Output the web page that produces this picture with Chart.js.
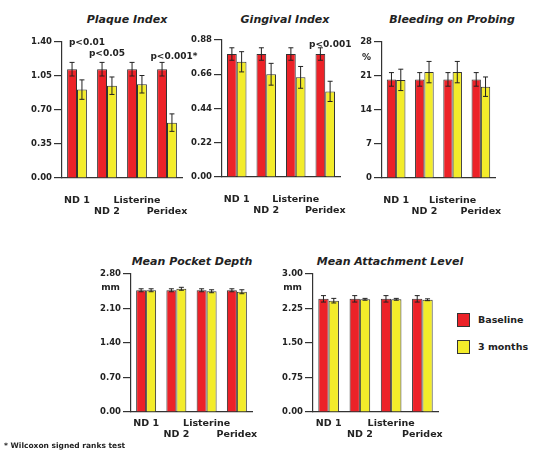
<!DOCTYPE html>
<html>
<head>
<meta charset="utf-8">
<script src="https://cdn.jsdelivr.net/npm/chart.js@4.4.1/dist/chart.umd.min.js"></script>
<style>
  body { margin: 0; background: #fff; }
  #page { position: relative; width: 533px; height: 452px; overflow: hidden; color: #222; font-family: 'DejaVu Sans', sans-serif; }
  canvas { position: absolute; }
  .title { position: absolute; width: 220px; text-align: center; font: italic bold 11px 'DejaVu Sans', sans-serif; line-height: 14px; }
  .key { position: absolute; left: 457px; width: 11px; height: 12px; border: 1px solid #333; }
  .keytext { position: absolute; left: 478px; font: bold 9.5px 'DejaVu Sans', sans-serif; line-height: 12px; }
  #foot { position: absolute; left: 4px; top: 441px; font: bold 7.5px 'DejaVu Sans', sans-serif; line-height: 10px; }
</style>
</head>
<body>
<div id="page">
  <div class="title" style="left:17px;top:13px">Plaque Index</div>
  <div class="title" style="left:175px;top:13px">Gingival Index</div>
  <div class="title" style="left:342px;top:13px">Bleeding on Probing</div>
  <div class="title" style="left:82px;top:255px">Mean Pocket Depth</div>
  <div class="title" style="left:280px;top:255px">Mean Attachment Level</div>

  <canvas id="plaque" style="left:0px;top:34px" width="202" height="184"></canvas>
  <canvas id="gingival" style="left:185px;top:32px" width="173" height="185"></canvas>
  <canvas id="bleeding" style="left:352px;top:34px" width="158" height="184"></canvas>
  <canvas id="pocket" style="left:80px;top:266px" width="187" height="176"></canvas>
  <canvas id="attach" style="left:270px;top:266px" width="183" height="176"></canvas>

  <div class="key" style="top:313px;background:#ec2228"></div>
  <div class="keytext" style="top:314px">Baseline</div>
  <div class="key" style="top:340px;background:#f3ec2a"></div>
  <div class="keytext" style="top:341px">3 months</div>
  <div id="foot">* Wilcoxon signed ranks test</div>
</div>
<script>
const categories = [['ND 1', ''], ['', 'ND 2'], ['Listerine', ''], ['', 'Peridex']];

const plaqueBaseline = [1.12, 1.12, 1.12, 1.12];
const plaqueBaselineErr = [0.07, 0.07, 0.07, 0.07];
const plaque3m = [0.91, 0.95, 0.965, 0.57];
const plaque3mErr = [0.10, 0.09, 0.09, 0.09];
const plaqueTicks = [0, 0.35, 0.70, 1.05, 1.40];

const gingivalBaseline = [0.79, 0.79, 0.79, 0.79];
const gingivalBaselineErr = [0.04, 0.04, 0.04, 0.04];
const gingival3m = [0.74, 0.66, 0.64, 0.55];
const gingival3mErr = [0.065, 0.07, 0.07, 0.065];
const gingivalTicks = [0, 0.22, 0.44, 0.66, 0.88];

const bleedingBaseline = [20.3, 20.3, 20.3, 20.3];
const bleedingBaselineErr = [1.4, 1.4, 1.4, 1.4];
const bleeding3m = [20.2, 21.8, 21.8, 18.8];
const bleeding3mErr = [2.2, 2.2, 2.2, 2.0];
const bleedingTicks = [0, 7, 14, 21, 28];

const pocketBaseline = [2.47, 2.47, 2.47, 2.47];
const pocketBaselineErr = [0.03, 0.03, 0.03, 0.03];
const pocket3m = [2.47, 2.50, 2.45, 2.44];
const pocket3mErr = [0.03, 0.03, 0.03, 0.04];
const pocketTicks = [0, 0.70, 1.40, 2.10, 2.80];

const attachBaseline = [2.46, 2.46, 2.46, 2.46];
const attachBaselineErr = [0.07, 0.07, 0.07, 0.07];
const attach3m = [2.42, 2.45, 2.45, 2.44];
const attach3mErr = [0.05, 0.02, 0.02, 0.02];
const attachTicks = [0, 0.75, 1.50, 2.25, 3.00];

const RED = '#ec2228';
const YELLOW = '#f3ec2a';
const AXIS = '#333';
const TEXT = '#222';
const FONT = "'DejaVu Sans', sans-serif";

// whiskers for +/- error drawn on top of each bar
const errorBars = {
  id: 'errorBars',
  afterDatasetsDraw(chart) {
    const ctx = chart.ctx;
    const y = chart.scales.y;
    ctx.save();
    ctx.strokeStyle = '#222';
    ctx.lineWidth = 1;
    chart.data.datasets.forEach((ds, i) => {
      chart.getDatasetMeta(i).data.forEach((bar, j) => {
        const top = y.getPixelForValue(ds.data[j] + ds.errors[j]);
        const bot = y.getPixelForValue(ds.data[j] - ds.errors[j]);
        ctx.beginPath();
        ctx.moveTo(bar.x, top); ctx.lineTo(bar.x, bot);
        ctx.moveTo(bar.x - 2.5, top); ctx.lineTo(bar.x + 2.5, top);
        ctx.moveTo(bar.x - 2.5, bot); ctx.lineTo(bar.x + 2.5, bot);
        ctx.stroke();
      });
    });
    ctx.restore();
  }
};

// p-value notes and the unit under the top tick
const notes = {
  id: 'notes',
  afterDraw(chart, args, opts) {
    const ctx = chart.ctx;
    const x = chart.scales.x;
    const y = chart.scales.y;
    ctx.save();
    ctx.fillStyle = TEXT;
    ctx.textBaseline = 'middle';
    ctx.font = 'bold 9px ' + FONT;
    (opts.marks || []).forEach(m => {
      ctx.textAlign = 'center';
      ctx.fillText(m.text, x.getPixelForValue(m.index) + m.dx, y.getPixelForValue(m.at));
    });
    if (opts.unit) {
      ctx.textAlign = 'right';
      ctx.fillText(opts.unit, y.right - 11, y.top + opts.unitDy);
    }
    ctx.restore();
  }
};

function makeChart(id, cfg) {
  return new Chart(document.getElementById(id), {
    type: 'bar',
    data: {
      labels: categories,
      datasets: [
        { label: 'Baseline', data: cfg.baseline, errors: cfg.baselineErr, backgroundColor: RED,
          borderColor: AXIS, borderWidth: 1, categoryPercentage: 0.66, barPercentage: 1 },
        { label: '3 months', data: cfg.months, errors: cfg.monthsErr, backgroundColor: YELLOW,
          borderColor: AXIS, borderWidth: 1, categoryPercentage: 0.66, barPercentage: 1 }
      ]
    },
    options: {
      responsive: false,
      animation: false,
      layout: { padding: { top: 8, right: cfg.padRight, bottom: 0, left: 0 } },
      plugins: {
        legend: { display: false },
        tooltip: { enabled: false },
        notes: { marks: cfg.marks || [], unit: cfg.unit || '', unitDy: cfg.unitDy || 14 }
      },
      scales: {
        x: {
          grid: { display: false, drawTicks: false },
          border: { display: true, color: AXIS, width: 1.2 },
          ticks: { color: TEXT, font: { family: FONT, size: 9.5, weight: 'bold', lineHeight: 1.15 },
                   padding: cfg.labelPad, maxRotation: 0, autoSkip: false },
          afterFit(s) { s.height = cfg.xHeight; s.paddingLeft = 0; s.paddingRight = 0; }
        },
        y: {
          min: 0,
          max: cfg.ticks[cfg.ticks.length - 1],
          afterBuildTicks(s) { s.ticks = cfg.ticks.map(v => ({ value: v })); },
          grid: { drawOnChartArea: false, color: AXIS, lineWidth: 1.2, tickLength: 8 },
          border: { color: AXIS, width: 1.2 },
          ticks: { color: TEXT, font: { family: FONT, size: 8.5, weight: 'bold' }, padding: 2,
                   callback: v => v.toFixed(cfg.decimals) },
          afterFit(s) { s.width = cfg.yWidth; s.paddingTop = 0; s.paddingBottom = 0; }
        }
      }
    },
    plugins: [errorBars, notes]
  });
}

makeChart('plaque', {
  baseline: plaqueBaseline, baselineErr: plaqueBaselineErr,
  months: plaque3m, monthsErr: plaque3mErr,
  ticks: plaqueTicks, decimals: 2, yWidth: 62, padRight: 20, xHeight: 40, labelPad: 17,
  marks: [
    { index: 0, text: 'p<0.01', at: 1.39, dx: 10 },
    { index: 1, text: 'p<0.05', at: 1.28, dx: 0 },
    { index: 3, text: 'p<0.001*', at: 1.245, dx: 7 }
  ]
});

makeChart('gingival', {
  baseline: gingivalBaseline, baselineErr: gingivalBaselineErr,
  months: gingival3m, monthsErr: gingival3mErr,
  ticks: gingivalTicks, decimals: 2, yWidth: 37, padRight: 18, xHeight: 40, labelPad: 17,
  marks: [{ index: 3, text: 'p<0.001', at: 0.848, dx: 5 }]
});

makeChart('bleeding', {
  baseline: bleedingBaseline, baselineErr: bleedingBaselineErr,
  months: bleeding3m, monthsErr: bleeding3mErr,
  ticks: bleedingTicks, decimals: 0, yWidth: 30, padRight: 15, xHeight: 40, labelPad: 17,
  unit: '%', unitDy: 16
});

makeChart('pocket', {
  baseline: pocketBaseline, baselineErr: pocketBaselineErr,
  months: pocket3m, monthsErr: pocket3mErr,
  ticks: pocketTicks, decimals: 2, yWidth: 51, padRight: 15, xHeight: 30, labelPad: 6,
  unit: 'mm', unitDy: 14
});

makeChart('attach', {
  baseline: attachBaseline, baselineErr: attachBaselineErr,
  months: attach3m, monthsErr: attach3mErr,
  ticks: attachTicks, decimals: 2, yWidth: 43, padRight: 15, xHeight: 30, labelPad: 6,
  unit: 'mm', unitDy: 14
});
</script>
</body>
</html>
